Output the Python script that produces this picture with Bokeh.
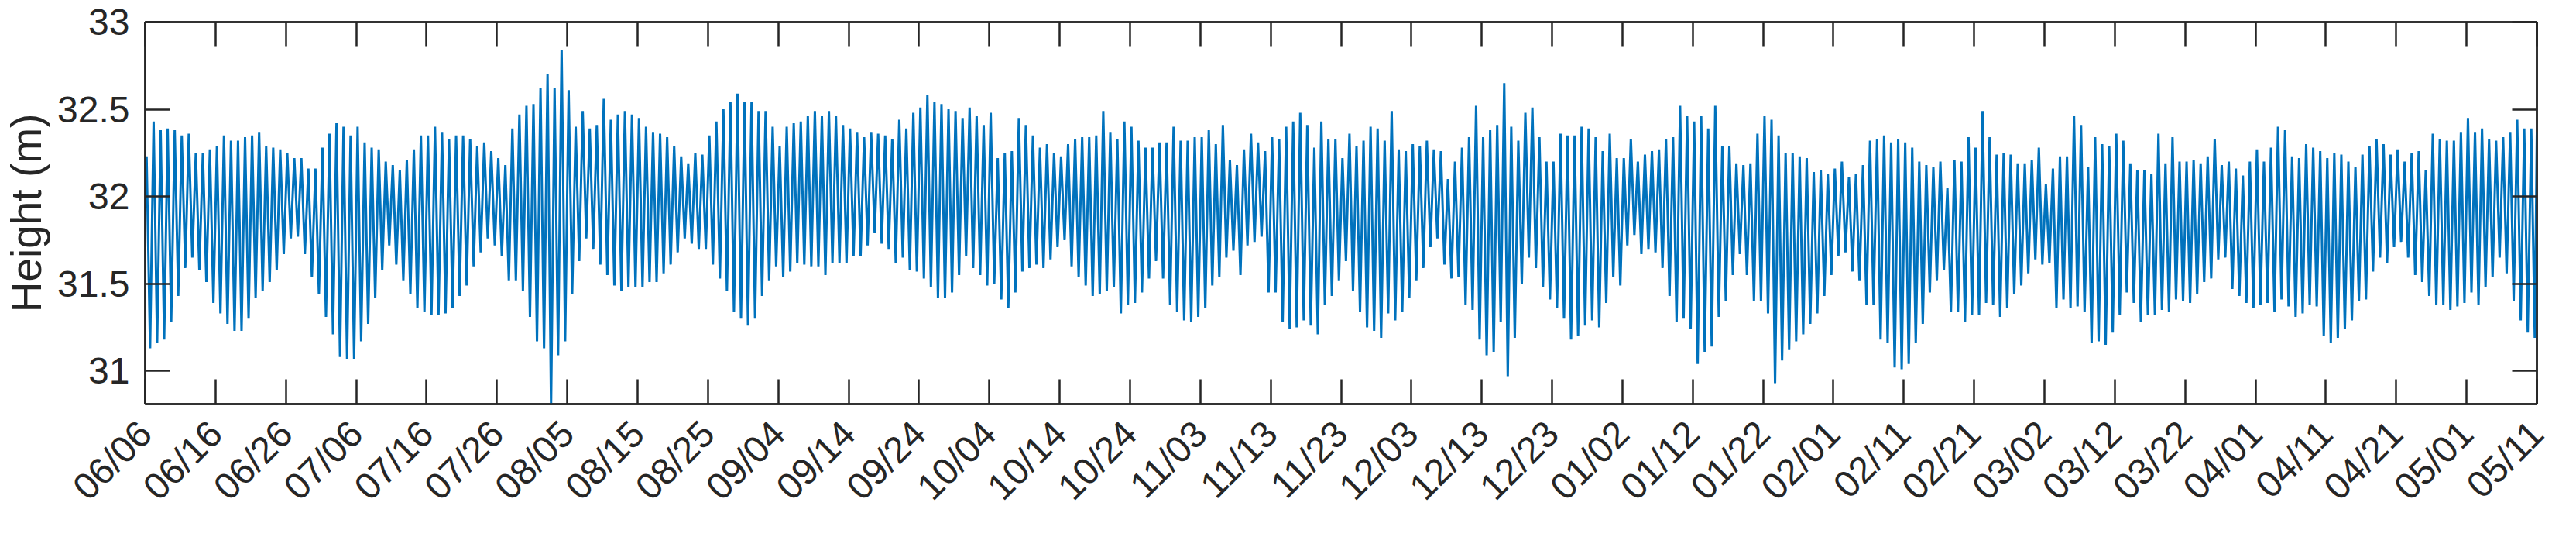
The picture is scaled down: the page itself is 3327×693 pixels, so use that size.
import numpy as np
from math import pi
from bokeh.plotting import figure
from bokeh.models import FixedTicker, NumeralTickFormatter, LinearAxis, Range1d
from bokeh.embed import file_html
from bokeh.resources import INLINE

# x tick labels (every 10 days, 06/06 .. 05/11)
tick_labels = ["06/06", "06/16", "06/26", "07/06", "07/16", "07/26", "08/05", "08/15",
               "08/25", "09/04", "09/14", "09/24", "10/04", "10/14", "10/24", "11/03",
               "11/13", "11/23", "12/03", "12/13", "12/23", "01/02", "01/12", "01/22",
               "02/01", "02/11", "02/21", "03/02", "03/12", "03/22", "04/01", "04/11",
               "04/21", "05/01", "05/11"]
y_ticks = [31.0, 31.5, 32.0, 32.5, 33.0]

# daily high water (m), one value per day from 06/06
high_part1 = [32.23, 32.43, 32.38, 32.39, 32.38, 32.35, 32.36, 32.25, 32.25, 32.27,
              32.29, 32.35, 32.32, 32.32, 32.34, 32.35, 32.37, 32.29, 32.28, 32.27,
              32.25, 32.22, 32.22, 32.16, 32.16, 32.28, 32.36, 32.42, 32.40, 32.35,
              32.40, 32.31, 32.28, 32.27, 32.20, 32.18, 32.15, 32.21, 32.27, 32.35,
              32.35, 32.40, 32.37]
high_part2 = [32.33, 32.35, 32.35, 32.33, 32.29, 32.31, 32.26, 32.22, 32.18, 32.39,
              32.47, 32.52, 32.53, 32.62, 32.70, 32.62, 32.84, 32.61, 32.40, 32.49,
              32.39, 32.41, 32.56, 32.44, 32.47, 32.49, 32.47, 32.45, 32.40, 32.37,
              32.36, 32.34, 32.29, 32.23, 32.19, 32.25, 32.24, 32.35, 32.43, 32.50,
              32.54, 32.59]
high_part3 = [32.54, 32.54, 32.49, 32.49, 32.40, 32.29, 32.40, 32.42, 32.43, 32.46,
              32.49, 32.46, 32.49, 32.46, 32.41, 32.39, 32.37, 32.34, 32.37, 32.36,
              32.35, 32.33, 32.44, 32.39, 32.48, 32.51, 32.58, 32.54, 32.53, 32.50,
              32.49, 32.45, 32.51, 32.46, 32.41, 32.48, 32.22, 32.25, 32.26, 32.45,
              32.41, 32.35, 32.28]
high_part4 = [32.30, 32.25, 32.23, 32.30, 32.33, 32.34, 32.34, 32.35, 32.49, 32.37,
              32.33, 32.43, 32.40, 32.32, 32.28, 32.28, 32.31, 32.31, 32.40, 32.32,
              32.32, 32.34, 32.34, 32.38, 32.30, 32.41, 32.21, 32.18, 32.27, 32.36,
              32.31, 32.26, 32.34, 32.33, 32.40, 32.43, 32.48, 32.41, 32.28, 32.43,
              32.33, 32.33, 32.22]
high_part5 = [32.36, 32.29, 32.32, 32.40, 32.39, 32.32, 32.49, 32.27, 32.26, 32.30,
              32.29, 32.32, 32.27, 32.26, 32.10, 32.20, 32.28, 32.34, 32.52, 32.34,
              32.38, 32.41, 32.65, 32.40, 32.32, 32.48, 32.51, 32.34, 32.20, 32.20,
              32.36, 32.35, 32.35, 32.40, 32.39, 32.34, 32.26, 32.36, 32.22, 32.22,
              32.33, 32.20, 32.24]
high_part6 = [32.26, 32.27, 32.33, 32.34, 32.52, 32.46, 32.43, 32.46, 32.39, 32.52,
              32.29, 32.29, 32.19, 32.18, 32.19, 32.36, 32.46, 32.44, 32.35, 32.25,
              32.25, 32.23, 32.22, 32.14, 32.15, 32.13, 32.16, 32.20, 32.11, 32.13,
              32.18, 32.32, 32.33, 32.35, 32.31, 32.33, 32.31, 32.28, 32.20, 32.18,
              32.17, 32.20, 32.05]
high_part7 = [32.21, 32.20, 32.34, 32.28, 32.49, 32.34, 32.24, 32.25, 32.24, 32.19,
              32.19, 32.21, 32.28, 32.07, 32.16, 32.23, 32.23, 32.46, 32.41, 32.17,
              32.34, 32.30, 32.29, 32.36, 32.32, 32.19, 32.15, 32.15, 32.13, 32.36,
              32.19, 32.34, 32.20, 32.20, 32.21, 32.19, 32.23, 32.33, 32.18, 32.20,
              32.16, 32.12, 32.20]
high_part8 = [32.27, 32.20, 32.28, 32.40, 32.38, 32.23, 32.22, 32.30, 32.28, 32.26,
              32.22, 32.25, 32.24, 32.20, 32.17, 32.24, 32.29, 32.33, 32.30, 32.24,
              32.27, 32.20, 32.25, 32.26, 32.15, 32.36, 32.33, 32.32, 32.32, 32.37,
              32.45, 32.37, 32.39, 32.33, 32.32, 32.34, 32.37, 32.44, 32.39, 32.39]

# daily low water (m), one value per day from 06/06
low_part1 = [31.13, 31.16, 31.18, 31.28, 31.43, 31.59, 31.65, 31.58, 31.51, 31.39,
             31.33, 31.27, 31.23, 31.23, 31.30, 31.42, 31.46, 31.51, 31.58, 31.67,
             31.76, 31.77, 31.67, 31.54, 31.44, 31.31, 31.21, 31.08, 31.07, 31.07,
             31.17, 31.27, 31.42, 31.58, 31.72, 31.61, 31.52, 31.44, 31.36, 31.34,
             31.32, 31.32, 31.33]
low_part2 = [31.36, 31.43, 31.49, 31.60, 31.68, 31.76, 31.72, 31.66, 31.52, 31.52,
             31.46, 31.31, 31.17, 31.13, 30.80, 31.09, 31.17, 31.44, 31.63, 31.76,
             31.70, 31.61, 31.55, 31.49, 31.46, 31.48, 31.48, 31.48, 31.51, 31.51,
             31.56, 31.61, 31.68, 31.76, 31.73, 31.70, 31.70, 31.61, 31.53, 31.46,
             31.34, 31.30]
low_part3 = [31.26, 31.30, 31.43, 31.52, 31.60, 31.54, 31.57, 31.62, 31.61, 31.60,
             31.60, 31.55, 31.62, 31.62, 31.62, 31.66, 31.66, 31.72, 31.79, 31.73,
             31.70, 31.62, 31.65, 31.58, 31.57, 31.53, 31.48, 31.42, 31.42, 31.45,
             31.55, 31.66, 31.59, 31.55, 31.49, 31.50, 31.41, 31.36, 31.45, 31.57,
             31.59, 31.61, 31.59]
low_part4 = [31.64, 31.71, 31.75, 31.60, 31.54, 31.49, 31.43, 31.44, 31.46, 31.48,
             31.33, 31.38, 31.39, 31.45, 31.53, 31.63, 31.53, 31.38, 31.34, 31.29,
             31.28, 31.31, 31.36, 31.49, 31.54, 31.65, 31.69, 31.55, 31.72, 31.74,
             31.77, 31.45, 31.45, 31.28, 31.24, 31.25, 31.29, 31.26, 31.21, 31.38,
             31.43, 31.52, 31.63]
low_part5 = [31.46, 31.34, 31.25, 31.23, 31.19, 31.33, 31.29, 31.34, 31.42, 31.52,
             31.59, 31.71, 31.76, 31.61, 31.53, 31.54, 31.38, 31.35, 31.18, 31.09,
             31.11, 31.28, 30.97, 31.19, 31.50, 31.65, 31.59, 31.48, 31.41, 31.36,
             31.30, 31.18, 31.20, 31.26, 31.29, 31.25, 31.39, 31.54, 31.49, 31.72,
             31.78, 31.67, 31.70]
low_part6 = [31.68, 31.59, 31.43, 31.28, 31.30, 31.24, 31.04, 31.11, 31.14, 31.31,
             31.40, 31.55, 31.67, 31.55, 31.40, 31.40, 31.33, 30.93, 31.06, 31.12,
             31.17, 31.21, 31.27, 31.33, 31.43, 31.55, 31.66, 31.68, 31.57, 31.52,
             31.38, 31.38, 31.18, 31.16, 31.02, 31.01, 31.04, 31.16, 31.27, 31.45,
             31.52, 31.58, 31.34]
low_part7 = [31.34, 31.28, 31.32, 31.32, 31.39, 31.38, 31.31, 31.36, 31.44, 31.49,
             31.56, 31.64, 31.61, 31.62, 31.36, 31.41, 31.36, 31.37, 31.34, 31.16,
             31.17, 31.15, 31.22, 31.32, 31.45, 31.39, 31.28, 31.32, 31.32, 31.35,
             31.34, 31.41, 31.40, 31.39, 31.44, 31.51, 31.53, 31.64, 31.65, 31.47,
             31.43, 31.39, 31.36]
low_part8 = [31.38, 31.39, 31.34, 31.41, 31.37, 31.31, 31.33, 31.38, 31.37, 31.20,
             31.16, 31.19, 31.24, 31.29, 31.40, 31.41, 31.57, 31.65, 31.62, 31.71,
             31.74, 31.65, 31.55, 31.51, 31.43, 31.38, 31.38, 31.35, 31.37, 31.39,
             31.45, 31.38, 31.48, 31.54, 31.65, 31.56, 31.40, 31.29, 31.22, 31.19]
final_reading = 32.37

highs = np.array(high_part1 + high_part2 + high_part3 + high_part4 +
                 high_part5 + high_part6 + high_part7 + high_part8)
lows = np.array(low_part1 + low_part2 + low_part3 + low_part4 +
                low_part5 + low_part6 + low_part7 + low_part8)
n = min(len(highs), len(lows))
day = np.arange(n)
t = np.empty(2 * n)
h = np.empty(2 * n)
t[0::2] = day + 0.2
t[1::2] = day + 0.7
h[0::2] = highs[:n]
h[1::2] = lows[:n]
span = 10 * (len(tick_labels) - 1)
t = np.append(t, span)
h = np.append(h, final_reading)

ink = "#262626"
FONT = "Liberation Sans"
x_ticks = [10 * i for i in range(len(tick_labels))]

p = figure(width=3311, height=677, output_backend="svg", toolbar_location=None,
           x_range=Range1d(0, span), y_range=Range1d(30.81, 33.0),
           min_border_left=179, min_border_right=35, min_border_top=28,
           min_border_bottom=156)
p.background_fill_color = "white"
p.border_fill_color = "white"
p.outline_line_color = ink
p.outline_line_width = 2.5
p.xgrid.visible = False
p.ygrid.visible = False

p.line(t, h, line_color="#0072BD", line_width=3)

def style(ax):
    ax.axis_line_color = ink
    ax.axis_line_width = 2.5
    ax.major_tick_line_color = ink
    ax.major_tick_line_width = 2.5
    ax.major_tick_in = 32
    ax.major_tick_out = 0
    ax.minor_tick_line_color = None
    ax.major_label_text_color = ink
    ax.major_label_text_font = FONT
    ax.major_label_text_font_size = "48px"

xa = p.xaxis[0]
style(xa)
xa.ticker = FixedTicker(ticks=x_ticks)
xa.major_label_overrides = {x: lab for x, lab in zip(x_ticks, tick_labels)}
xa.major_label_orientation = pi / 4
xa.major_label_standoff = 30

ya = p.yaxis[0]
style(ya)
ya.ticker = FixedTicker(ticks=y_ticks)
ya.formatter = NumeralTickFormatter(format="0.[0]")
ya.major_label_standoff = 20
ya.axis_label = "Height (m)"
ya.axis_label_text_font = FONT
ya.axis_label_text_font_size = "55px"
ya.axis_label_text_font_style = "normal"
ya.axis_label_text_color = ink
ya.axis_label_standoff = 6

# box ticks on the top and right edges (no labels there)
top = LinearAxis(ticker=FixedTicker(ticks=x_ticks))
style(top)
top.major_label_text_color = None
top.major_label_text_font_size = "1px"
top.major_label_standoff = 0
p.add_layout(top, "above")

right = LinearAxis(ticker=FixedTicker(ticks=y_ticks))
style(right)
right.major_label_text_color = None
right.major_label_text_font_size = "1px"
right.major_label_standoff = 0
p.add_layout(right, "right")

open("out.html", "w").write(file_html(p, INLINE))
